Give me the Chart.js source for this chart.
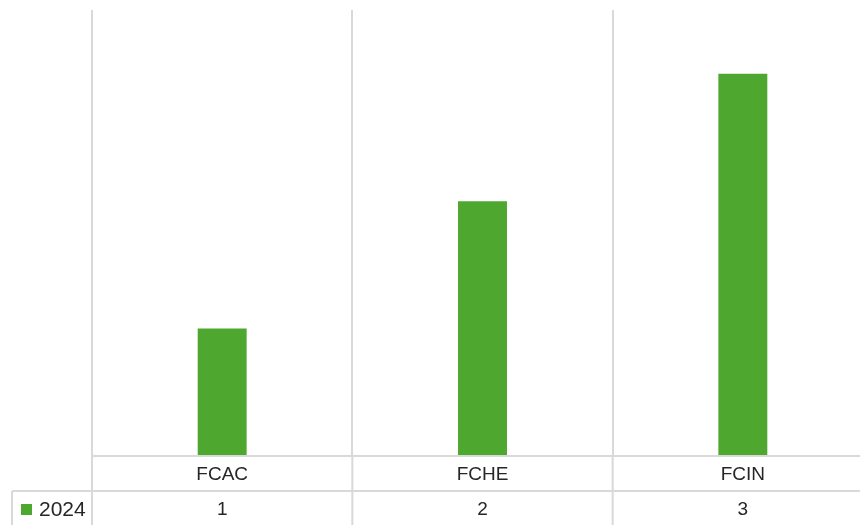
<!DOCTYPE html>
<html lang="en">
<head>
    <meta charset="UTF-8">
    <title>2024 by unit</title>
    <script src="https://cdn.jsdelivr.net/npm/chart.js"></script>
    <style>
        body {
            margin: 0;
            background: #fff;
            overflow: hidden;
            width: 860px;
            height: 525px;
        }
        .wrap {
            width: 873px;
            height: 525px;
        }
    </style>
</head>
<body>
    <div class="wrap">
        <canvas id="chart" width="873" height="525"></canvas>
    </div>

    <script>
        // chart data
        const categories = ['FCAC', 'FCHE', 'FCIN'];
        const seriesName = '2024';
        const values2024 = [1, 2, 3];

        const barColor = '#4ea72e';
        const lineColor = '#d9d9d9';
        const textColor = '#262626';

        // data table under the plot (category row + series row)
        const dataTable = {
            id: 'dataTable',
            afterDraw(chart) {
                const ctx = chart.ctx;
                const area = chart.chartArea;
                const xs = chart.scales.x;
                const catW = xs.width / categories.length;
                const rowTop = area.bottom;
                const rowMid = rowTop + 35;
                const rowEnd = chart.height;
                const tableLeft = 12;

                ctx.save();
                ctx.strokeStyle = lineColor;
                ctx.lineWidth = 2;

                // horizontal rules
                ctx.beginPath();
                ctx.moveTo(area.left, rowTop);
                ctx.lineTo(chart.width, rowTop);
                ctx.moveTo(tableLeft, rowMid);
                ctx.lineTo(chart.width, rowMid);
                // vertical rules continue down through the table
                for (let i = 0; i <= categories.length; i++) {
                    const x = area.left + i * catW;
                    ctx.moveTo(x, rowTop);
                    ctx.lineTo(x, rowEnd);
                }
                ctx.moveTo(tableLeft, rowMid);
                ctx.lineTo(tableLeft, rowEnd);
                ctx.stroke();

                ctx.fillStyle = textColor;
                ctx.font = '19px "Liberation Sans", Arial, sans-serif';
                ctx.textAlign = 'center';
                ctx.textBaseline = 'middle';
                categories.forEach((c, i) => {
                    const x = xs.getPixelForValue(i);
                    ctx.fillText(c, x, (rowTop + rowMid) / 2 + 1);
                    ctx.fillText(String(values2024[i]), x, (rowMid + rowEnd) / 2 + 2);
                });

                // series key
                const keyY = (rowMid + rowEnd) / 2 + 2;
                ctx.fillStyle = barColor;
                ctx.fillRect(21, keyY - 6, 11, 11);
                ctx.fillStyle = textColor;
                ctx.textAlign = 'left';
                ctx.font = '21px "Liberation Sans", Arial, sans-serif';
                ctx.fillText(seriesName, 39, keyY);
                ctx.restore();
            }
        };

        new Chart(document.getElementById('chart'), {
            type: 'bar',
            data: {
                labels: categories,
                datasets: [{
                    label: seriesName,
                    data: values2024,
                    backgroundColor: barColor,
                    borderWidth: 0,
                    barPercentage: 0.188,
                    categoryPercentage: 1
                }]
            },
            options: {
                responsive: false,
                animation: false,
                layout: {
                    padding: { left: 92, top: 10, right: 0, bottom: 69 }
                },
                plugins: {
                    legend: { display: false },
                    tooltip: { enabled: false }
                },
                scales: {
                    x: {
                        offset: true,
                        ticks: { display: false },
                        border: { display: false },
                        grid: {
                            offset: true,
                            color: lineColor,
                            lineWidth: 2,
                            drawTicks: false
                        }
                    },
                    y: {
                        display: false,
                        min: 0,
                        max: 3.5
                    }
                }
            },
            plugins: [dataTable]
        });
    </script>
</body>
</html>
